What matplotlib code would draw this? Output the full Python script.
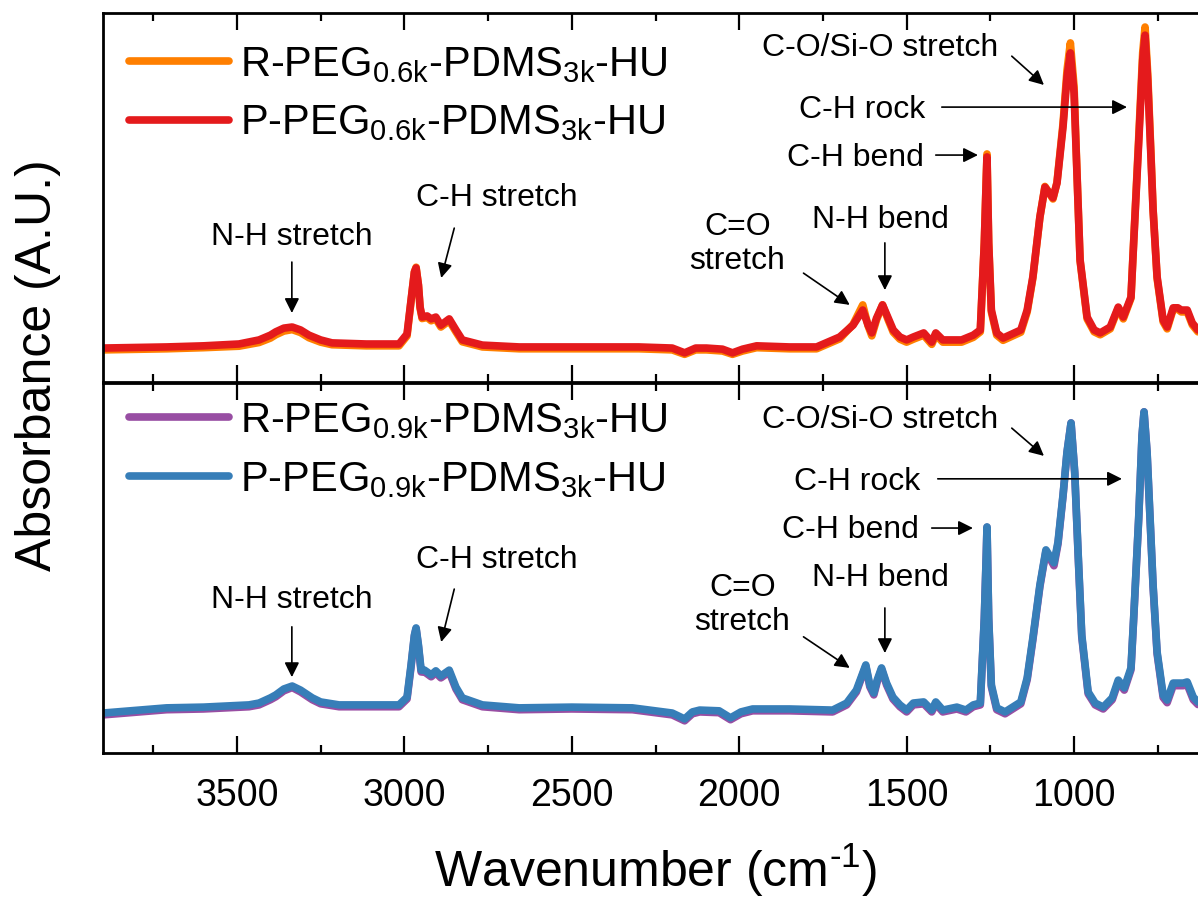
import matplotlib
matplotlib.use("Agg")
import matplotlib.pyplot as plt
from matplotlib.ticker import MultipleLocator

plt.rcParams['font.family'] = ['Liberation Sans', 'DejaVu Sans']
plt.rcParams['mathtext.fontset'] = 'custom'
plt.rcParams['mathtext.rm'] = 'Liberation Sans'

# ---- data: wavenumber (cm-1) and absorbance (A.U., normalised per panel) ----
wn_top = [3900, 3710, 3600, 3494, 3434, 3400, 3384, 3360, 3335, 3310, 3285, 3250,
          3216, 3114, 3016, 2992, 2980, 2970, 2965, 2958, 2953, 2947, 2932, 2920,
          2906, 2891, 2866, 2846, 2827, 2767, 2657, 2500, 2300, 2200, 2163, 2130,
          2098, 2050, 2020, 1990, 1948, 1850, 1769, 1700, 1660, 1631, 1615, 1604,
          1590, 1572, 1555, 1540, 1520, 1500, 1480, 1449, 1425, 1413, 1392, 1336,
          1301, 1280, 1268, 1262, 1260, 1255, 1247, 1231, 1212, 1159, 1140, 1123,
          1102, 1087, 1063, 1051, 1033, 1021, 1011, 1000, 991, 982, 961, 940,
          922, 892, 868, 853, 830, 822, 807, 795, 788, 780, 770, 764,
          752, 734, 722, 704, 690, 680, 662, 647, 630]

p06 = [0.092, 0.095, 0.098, 0.103, 0.114, 0.127, 0.136, 0.146, 0.149, 0.141, 0.127, 0.114,
       0.106, 0.103, 0.103, 0.130, 0.222, 0.298, 0.309, 0.263, 0.203, 0.176, 0.179, 0.171,
       0.176, 0.154, 0.171, 0.141, 0.114, 0.100, 0.095, 0.095, 0.095, 0.092, 0.079, 0.092,
       0.092, 0.089, 0.079, 0.089, 0.098, 0.095, 0.095, 0.122, 0.154, 0.195, 0.154, 0.133,
       0.173, 0.209, 0.173, 0.141, 0.122, 0.114, 0.122, 0.133, 0.108, 0.133, 0.114, 0.114,
       0.127, 0.141, 0.377, 0.556, 0.610, 0.377, 0.195, 0.133, 0.119, 0.141, 0.195, 0.285,
       0.447, 0.528, 0.499, 0.539, 0.691, 0.827, 0.892, 0.783, 0.556, 0.331, 0.176, 0.141,
       0.133, 0.149, 0.203, 0.176, 0.230, 0.377, 0.648, 0.873, 0.940, 0.818, 0.602, 0.466,
       0.285, 0.168, 0.149, 0.201, 0.201, 0.195, 0.195, 0.160, 0.141]

r06 = [0.087, 0.090, 0.093, 0.097, 0.107, 0.119, 0.128, 0.138, 0.142, 0.134, 0.120, 0.108,
       0.101, 0.098, 0.098, 0.125, 0.220, 0.298, 0.311, 0.262, 0.200, 0.172, 0.175, 0.166,
       0.171, 0.149, 0.166, 0.136, 0.109, 0.095, 0.090, 0.090, 0.090, 0.087, 0.075, 0.087,
       0.087, 0.084, 0.075, 0.084, 0.093, 0.090, 0.090, 0.117, 0.156, 0.209, 0.152, 0.125,
       0.168, 0.209, 0.168, 0.135, 0.116, 0.108, 0.116, 0.127, 0.102, 0.127, 0.108, 0.108,
       0.121, 0.136, 0.377, 0.560, 0.618, 0.377, 0.190, 0.127, 0.113, 0.135, 0.190, 0.282,
       0.447, 0.530, 0.496, 0.541, 0.700, 0.845, 0.919, 0.800, 0.560, 0.328, 0.171, 0.136,
       0.128, 0.144, 0.200, 0.171, 0.227, 0.380, 0.660, 0.893, 0.962, 0.835, 0.610, 0.468,
       0.281, 0.163, 0.144, 0.197, 0.197, 0.190, 0.190, 0.155, 0.136]

wn_bot = [3900, 3710, 3600, 3464, 3434, 3400, 3384, 3360, 3335, 3310, 3275, 3250,
          3195, 3114, 3016, 2992, 2980, 2970, 2965, 2958, 2950, 2940, 2932, 2920,
          2906, 2891, 2866, 2846, 2827, 2767, 2657, 2500, 2319, 2200, 2163, 2140,
          2118, 2060, 2026, 1995, 1960, 1850, 1721, 1679, 1650, 1622, 1610, 1598,
          1588, 1575, 1560, 1541, 1520, 1500, 1480, 1449, 1425, 1413, 1392, 1350,
          1323, 1301, 1280, 1268, 1262, 1260, 1255, 1247, 1231, 1206, 1159, 1140,
          1123, 1102, 1084, 1060, 1048, 1033, 1021, 1009, 998, 988, 977, 958,
          937, 913, 886, 868, 850, 830, 822, 807, 797, 791, 782, 773,
          764, 752, 734, 722, 704, 690, 674, 662, 644, 630]

p09 = [0.108, 0.122, 0.124, 0.130, 0.135, 0.149, 0.157, 0.173, 0.181, 0.170, 0.149, 0.138,
       0.130, 0.130, 0.130, 0.151, 0.238, 0.319, 0.338, 0.292, 0.224, 0.224, 0.219, 0.211,
       0.222, 0.208, 0.224, 0.178, 0.149, 0.130, 0.122, 0.124, 0.122, 0.108, 0.092, 0.111,
       0.116, 0.114, 0.095, 0.111, 0.119, 0.119, 0.116, 0.135, 0.170, 0.238, 0.184, 0.162,
       0.197, 0.230, 0.189, 0.151, 0.130, 0.116, 0.135, 0.138, 0.116, 0.138, 0.116, 0.124,
       0.116, 0.130, 0.135, 0.365, 0.543, 0.611, 0.365, 0.184, 0.122, 0.111, 0.138, 0.203,
       0.311, 0.454, 0.549, 0.514, 0.570, 0.697, 0.814, 0.892, 0.759, 0.543, 0.319, 0.165,
       0.135, 0.124, 0.149, 0.197, 0.176, 0.230, 0.365, 0.635, 0.859, 0.922, 0.814, 0.635,
       0.454, 0.273, 0.157, 0.143, 0.189, 0.189, 0.189, 0.192, 0.151, 0.138]

r09 = [0.103, 0.117, 0.119, 0.125, 0.130, 0.144, 0.152, 0.168, 0.177, 0.165, 0.144, 0.133,
       0.125, 0.125, 0.125, 0.146, 0.233, 0.316, 0.336, 0.288, 0.219, 0.219, 0.214, 0.206,
       0.217, 0.203, 0.219, 0.173, 0.144, 0.125, 0.117, 0.119, 0.117, 0.103, 0.087, 0.106,
       0.111, 0.109, 0.090, 0.106, 0.114, 0.114, 0.111, 0.130, 0.165, 0.235, 0.179, 0.157,
       0.192, 0.227, 0.184, 0.146, 0.125, 0.111, 0.130, 0.133, 0.111, 0.133, 0.111, 0.119,
       0.111, 0.125, 0.130, 0.362, 0.541, 0.610, 0.362, 0.179, 0.117, 0.106, 0.133, 0.198,
       0.306, 0.450, 0.545, 0.506, 0.565, 0.694, 0.812, 0.892, 0.756, 0.539, 0.314, 0.160,
       0.130, 0.119, 0.144, 0.192, 0.170, 0.225, 0.362, 0.632, 0.857, 0.922, 0.811, 0.631,
       0.450, 0.268, 0.150, 0.136, 0.182, 0.182, 0.182, 0.185, 0.144, 0.131]

labels_top = [r'R-PEG$_{\mathregular{0.6k}}$-PDMS$_{\mathregular{3k}}$-HU',
              r'P-PEG$_{\mathregular{0.6k}}$-PDMS$_{\mathregular{3k}}$-HU']
labels_bot = [r'R-PEG$_{\mathregular{0.9k}}$-PDMS$_{\mathregular{3k}}$-HU',
              r'P-PEG$_{\mathregular{0.9k}}$-PDMS$_{\mathregular{3k}}$-HU']

colors_top = ['#ff7f00', '#e41a1c']
colors_bot = ['#984ea3', '#377eb8']

# annotation texts: (label, text x, text y, arrow tail, arrow head) in data coords
notes_top = [
    ('N-H stretch', 3336, 0.393, (3336, 0.325), (3336, 0.187)),
    ('C-H stretch', 2723, 0.499, (2851, 0.417), (2890, 0.282)),
    ('C=O\nstretch', 2005, 0.374, (1808, 0.295), (1670, 0.209)),
    ('N-H bend', 1577, 0.439, (1565, 0.377), (1565, 0.249)),
    ('C-H bend', 1652, 0.607, (1413, 0.615), (1287, 0.615)),
    ('C-H rock', 1634, 0.737, (1395, 0.745), (842, 0.745)),
    ('C-O/Si-O stretch', 1580, 0.905, (1186, 0.883), (1090, 0.805)),
]
notes_bot = [
    ('N-H stretch', 3336, 0.414, (3336, 0.341), (3336, 0.205)),
    ('C-H stretch', 2723, 0.522, (2851, 0.443), (2890, 0.300)),
    ('C=O\nstretch', 1990, 0.400, (1808, 0.314), (1670, 0.230)),
    ('N-H bend', 1577, 0.473, (1565, 0.392), (1565, 0.270)),
    ('C-H bend', 1667, 0.603, (1425, 0.608), (1302, 0.608)),
    ('C-H rock', 1649, 0.732, (1407, 0.741), (857, 0.741)),
    ('C-O/Si-O stretch', 1580, 0.900, (1186, 0.878), (1090, 0.803)),
]

fig = plt.figure(figsize=(11.98, 8.97), dpi=100)
left = 103 / 1198
width = 1105 / 1198
ax1 = fig.add_axes([left, 1 - 382 / 897, width, 369 / 897])
ax2 = fig.add_axes([left, 1 - 753 / 897, width, 370 / 897], sharex=ax1)

panels = [
    (ax1, wn_top, [r06, p06], colors_top, labels_top, notes_top, (0.007, 0.965)),
    (ax2, wn_bot, [r09, p09], colors_bot, labels_bot, notes_bot, (0.007, 1.002)),
]

for ax, wn, series, cols, labs, notes, anchor in panels:
    for y, c, lab in zip(series, cols, labs):
        ax.plot(wn, y, color=c, lw=5.5, label=lab, solid_capstyle='round',
                solid_joinstyle='round')
    ax.set_ylim(0, 1)
    ax.set_yticks([])
    for txt, tx, ty, tail, head in notes:
        ax.text(tx, ty, txt, fontsize=23, ha='center', va='center', linespacing=1.15)
        ax.annotate('', xy=head, xytext=tail,
                    arrowprops=dict(arrowstyle='-|>', color='k', lw=1.2,
                                    mutation_scale=22, shrinkA=0, shrinkB=0))
    ax.legend(loc='upper left', bbox_to_anchor=anchor, frameon=False, fontsize=30,
              handlelength=2.4, handletextpad=0.26, labelspacing=0.45,
              borderaxespad=0.15, borderpad=0.3)
    for s in ax.spines.values():
        s.set_linewidth(2.0)
    ax.xaxis.set_major_locator(MultipleLocator(500))
    ax.xaxis.set_minor_locator(MultipleLocator(250))
    ax.tick_params(axis='x', which='both', direction='in', top=True, bottom=True,
                   width=1.6, labelsize=27, pad=18)
    ax.tick_params(axis='x', which='major', length=12)
    ax.tick_params(axis='x', which='minor', length=6)

ax1.set_xlim(3900, 600)
ax1.tick_params(axis='x', labelbottom=False)

ax2.set_xlabel(r'Wavenumber (cm$^{\text{-1}}$)', fontsize=36, labelpad=20)
fig.text(38 / 1198, 1 - 365 / 897, 'Absorbance (A.U.)', rotation=90,
         fontsize=36, ha='center', va='center')

fig.savefig('out.png', dpi=100)
